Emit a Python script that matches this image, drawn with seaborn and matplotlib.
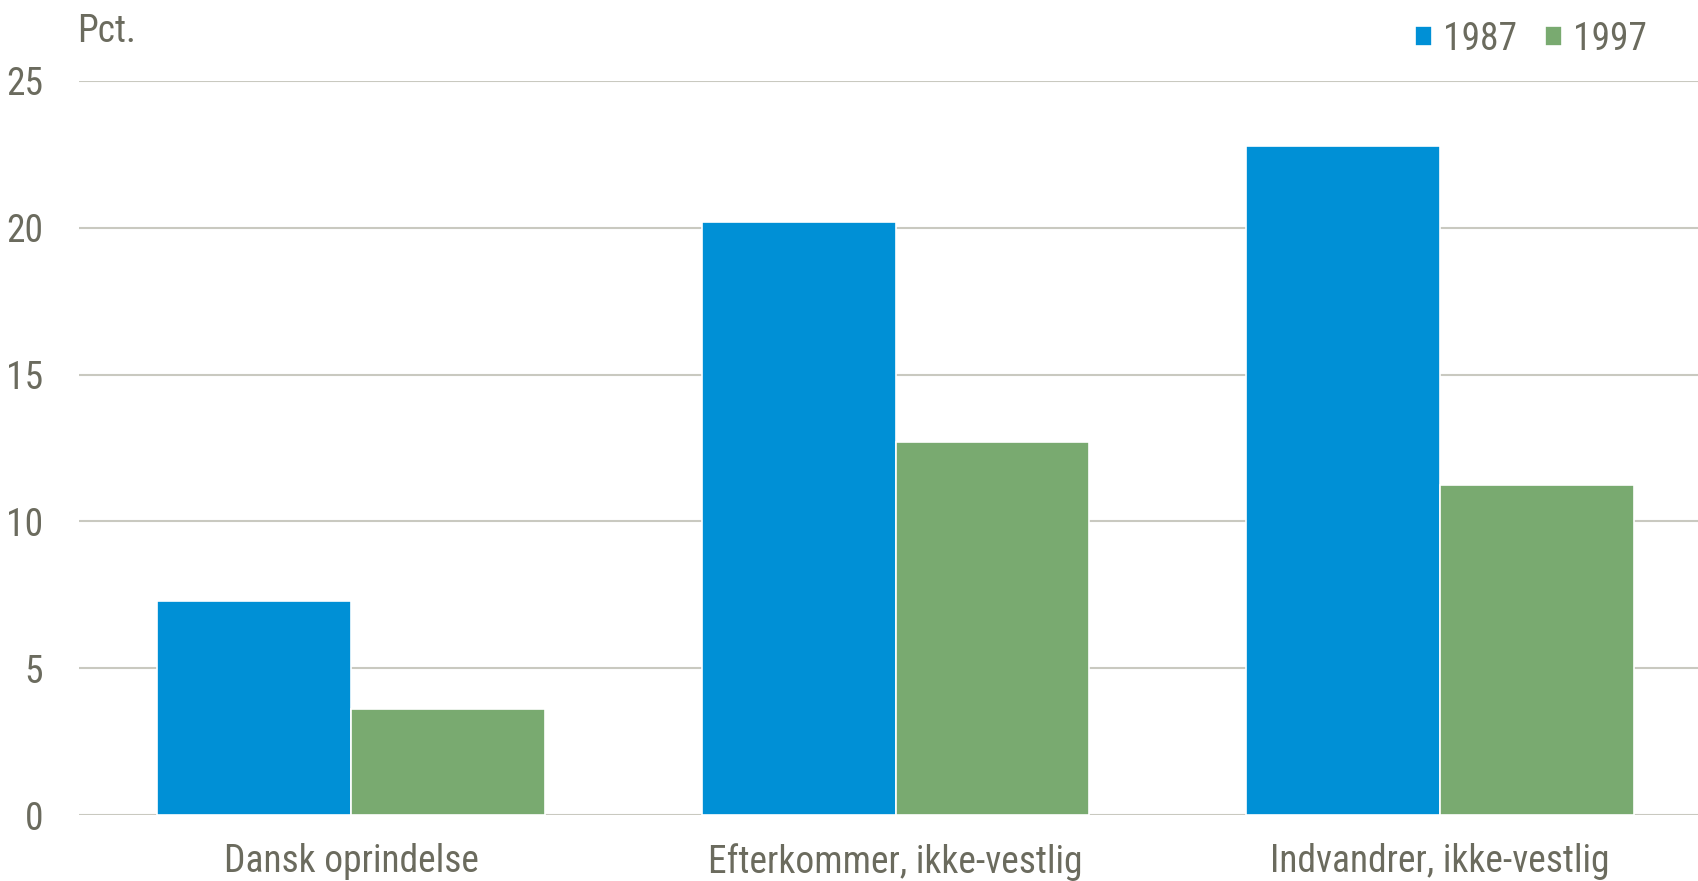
import matplotlib
matplotlib.use("Agg")
import matplotlib.pyplot as plt
import seaborn as sns
import pandas as pd
from matplotlib import font_manager

categories = ["Dansk oprindelse", "Efterkommer, ikke-vestlig", "Indvandrer, ikke-vestlig"]
years = ["1987", "1997"]
values_1987 = [7.3, 20.2, 22.8]
values_1997 = [3.6, 12.7, 11.25]
yticks = [0, 5, 10, 15, 20, 25]

rows = []
for c, a, b in zip(categories, values_1987, values_1997):
    rows.append({"cat": c, "year": years[0], "val": a})
    rows.append({"cat": c, "year": years[1], "val": b})
df = pd.DataFrame(rows)

sns.set_theme(style="white")
names = {f.name for f in font_manager.fontManager.ttflist}
fam = [n for n in ["Liberation Sans Narrow", "Roboto Condensed", "Liberation Sans", "DejaVu Sans"] if n in names]
plt.rcParams['font.family'] = fam

txt = "#6b6b5e"
grid = "#c9c9c0"
colors = {"1987": "#0090d6", "1997": "#79aa70"}

fig = plt.figure(figsize=(16.98, 8.81), dpi=100)
ax = fig.add_axes([79/1698, 1-815/881, 1-79/1698, (815-81)/881])

sns.barplot(data=df, x="cat", y="val", hue="year", palette=colors, width=0.712,
            edgecolor="white", linewidth=1.2, saturation=1, ax=ax, legend=True)

ax.set_ylim(0, 25)
ax.set_xlim(-0.5, (1698-351)/544.5)
ax.set_yticks(yticks)
ax.set_yticklabels([str(t) for t in yticks])
ax.yaxis.grid(True, color=grid, linewidth=1.5)
ax.set_axisbelow(True)
for s in ax.spines.values():
    s.set_visible(False)
ax.tick_params(axis="y", length=0, pad=26, labelsize=27, labelcolor=txt)
ax.tick_params(axis="x", length=0, pad=20, labelsize=27, labelcolor=txt)
ax.set_xlabel("")
ax.set_ylabel("")

fig.text(77/1698, 1-42/881, "Pct.", fontsize=27, color=txt, ha="left", va="baseline")

leg = ax.legend(loc="upper right", bbox_to_anchor=(1668/1698, 1.0), bbox_transform=fig.transFigure,
                frameon=False, fontsize=27, labelcolor=txt, ncol=2, handlelength=0.45, handleheight=0.45,
                handletextpad=0.3, columnspacing=0.75, borderaxespad=0.15)

fig.savefig("out.png", dpi=100)
